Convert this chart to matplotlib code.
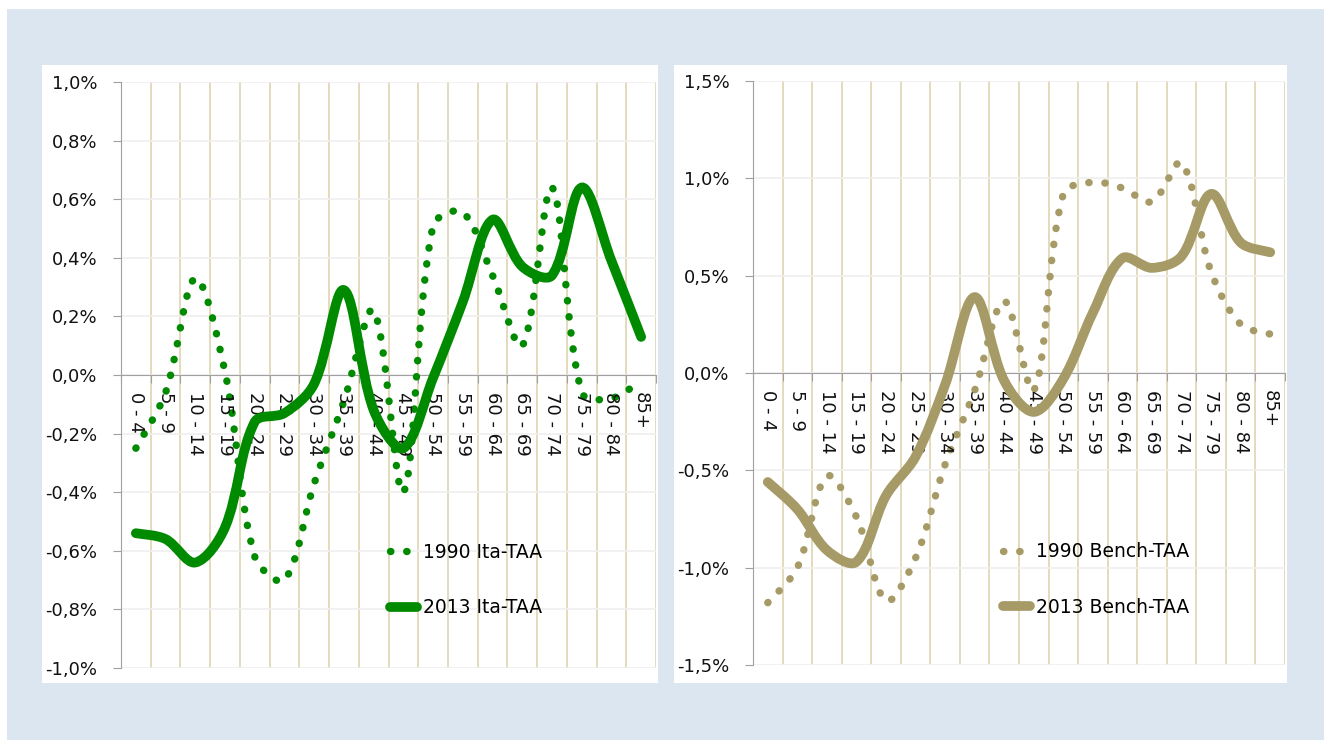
import numpy as np
import matplotlib.pyplot as plt
from matplotlib.path import Path
from matplotlib.patches import PathPatch, Rectangle
from matplotlib.lines import Line2D

# Dati (valori in %)
ages = ['0 - 4', '5 - 9', '10 - 14', '15 - 19', '20 - 24', '25 - 29', '30 - 34',
        '35 - 39', '40 - 44', '45 - 49', '50 - 54', '55 - 59', '60 - 64',
        '65 - 69', '70 - 74', '75 - 79', '80 - 84', '85+']

ita_1990 = [-0.25, -0.06, 0.33, 0.01, -0.62, -0.70, -0.37, -0.09, 0.22,
            -0.40, 0.51, 0.555, 0.34, 0.10, 0.64, -0.06, -0.08, -0.02]
ita_2013 = [-0.54, -0.56, -0.64, -0.52, -0.16, -0.13, -0.03, 0.29, -0.12,
            -0.25, -0.01, 0.25, 0.53, 0.37, 0.34, 0.64, 0.39, 0.13]

bench_1990 = [-1.18, -1.00, -0.53, -0.74, -1.17, -0.95, -0.47, -0.09, 0.37,
              -0.09, 0.92, 0.98, 0.95, 0.88, 1.08, 0.52, 0.25, 0.20]
bench_2013 = [-0.56, -0.70, -0.91, -0.97, -0.63, -0.43, -0.06, 0.39, -0.04,
              -0.20, -0.03, 0.31, 0.59, 0.54, 0.60, 0.92, 0.67, 0.62]

labels_left = ['1990 Ita-TAA', '2013 Ita-TAA']
labels_right = ['1990 Bench-TAA', '2013 Bench-TAA']

GREEN = '#008A00'
TAN = '#A69A66'
VGRID = '#DDD4B2'
HGRID = '#EFEFEF'
AXIS = '#A0A0A0'
BLUE_BG = '#DCE6F0'
DOT_LW = 5.3
DOTS = (0, (0.05, 2.15))

W, H = 1324, 740


def px(x0, y0, x1, y1):
    # rettangolo in pixel (origine in alto a sinistra) -> frazioni della figura
    return [x0 / W, 1 - y1 / H, (x1 - x0) / W, (y1 - y0) / H]


def smooth_path(ax, xs, ys):
    # linea smussata tipo Excel: Bezier cubiche, tangenti pesate sulla
    # lunghezza dei segmenti calcolata in pixel
    pts = ax.transData.transform(np.column_stack([xs, ys]).astype(float))
    n = len(pts)
    out_c, in_c = [], []
    for i in range(n):
        if i == 0:
            t = (pts[1] - pts[0]) / 2
            out_c.append(pts[0] + t / 3)
            in_c.append(pts[0])
            continue
        if i == n - 1:
            t = (pts[-1] - pts[-2]) / 2
            in_c.append(pts[-1] - t / 3)
            out_c.append(pts[-1])
            continue
        d0 = np.hypot(*(pts[i] - pts[i - 1]))
        d1 = np.hypot(*(pts[i + 1] - pts[i]))
        t = pts[i + 1] - pts[i - 1]
        out_c.append(pts[i] + t * d1 / (d0 + d1) / 3)
        in_c.append(pts[i] - t * d0 / (d0 + d1) / 3)
    verts = [pts[0]]
    codes = [Path.MOVETO]
    for i in range(n - 1):
        verts += [out_c[i], in_c[i + 1], pts[i + 1]]
        codes += [Path.CURVE4] * 3
    verts = ax.transData.inverted().transform(np.array(verts))
    return Path(verts, codes)


def draw_panel(ax, old, new, color, labels, ylim, step, leg_anchor):
    n = len(ages)
    x = np.arange(n)
    ax.set_xlim(-0.5, n - 0.5)
    ax.set_ylim(*ylim)
    ax.set_axisbelow(True)

    # serie
    ax.add_patch(PathPatch(smooth_path(ax, x, old), fill=False, edgecolor=color,
                           lw=DOT_LW, linestyle=DOTS, capstyle='round', zorder=3))
    ax.add_patch(PathPatch(smooth_path(ax, x, new), fill=False, edgecolor=color,
                           lw=7, capstyle='round', joinstyle='round', zorder=4))

    # assi
    for s in ['top', 'right']:
        ax.spines[s].set_visible(False)
    ax.spines['left'].set_color(AXIS)
    ax.spines['bottom'].set_color(AXIS)
    ax.spines['bottom'].set_position(('data', 0))

    ax.set_xticks(np.arange(-0.5, n, 1.0))
    ax.set_xticklabels([])
    ax.tick_params(axis='x', direction='out', length=6, color=AXIS)
    ax.xaxis.grid(True, color=VGRID, lw=1.2)

    yt = np.arange(ylim[0], ylim[1] + step / 2, step)
    ax.set_yticks(yt)
    ax.set_yticklabels([f'{v:.1f}%'.replace('.', ',').replace('-0,0', '0,0') for v in yt])
    ax.tick_params(axis='y', direction='out', length=6, color=AXIS, pad=11,
                   labelsize=13, labelcolor='#111111')
    ax.yaxis.grid(True, color=HGRID, lw=1.2)

    for i, lab in enumerate(ages):
        ax.annotate(lab, (i, 0), xytext=(0, -12.5), textcoords='offset points',
                    rotation=270, ha='center', va='top', fontsize=13, color='#111111')

    handles = [Line2D([], [], color=color, lw=DOT_LW, linestyle=DOTS, dash_capstyle='round'),
               Line2D([], [], color=color, lw=7, solid_capstyle='round')]
    ax.legend(handles, labels, loc='upper left', bbox_to_anchor=leg_anchor,
              frameon=False, fontsize=13.5, handlelength=1.45, handletextpad=0.3,
              labelspacing=1.95, borderpad=0, borderaxespad=0)


fig = plt.figure(figsize=(W / 100, H / 100), dpi=100)
fig.patches.append(Rectangle((7 / W, 0), 1 - 7 / W, 1 - 9 / H, transform=fig.transFigure,
                             facecolor=BLUE_BG, edgecolor='none', zorder=-3))
for box in [px(42, 65, 658, 683), px(674, 65, 1287, 683)]:
    fig.patches.append(Rectangle(box[:2], *box[2:], transform=fig.transFigure,
                                 facecolor='white', edgecolor='none', zorder=-2))

ax1 = fig.add_axes(px(121, 82, 656, 668))
ax1.patch.set_alpha(0)
draw_panel(ax1, ita_1990, ita_2013, GREEN, labels_left, (-1.0, 1.0), 0.2, (0.503, 0.214))

ax2 = fig.add_axes(px(753, 81, 1285, 665))
ax2.patch.set_alpha(0)
draw_panel(ax2, bench_1990, bench_2013, TAN, labels_right, (-1.5, 1.5), 0.5, (0.47, 0.21))

fig.savefig('out.png', dpi=100)
